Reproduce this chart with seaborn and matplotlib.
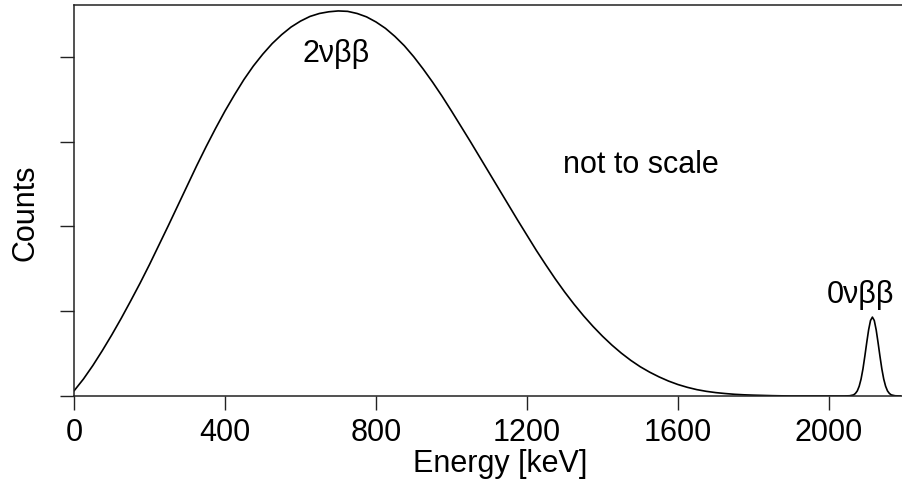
import matplotlib
matplotlib.use("Agg")
import matplotlib.pyplot as plt
import seaborn as sns
import pandas as pd

# ---- data ----
energy_2nu = [0, 25, 50, 75, 100, 125, 150, 175, 200, 225, 250, 275, 300, 325,
              350, 375, 400, 425, 450, 475, 500, 525, 550, 575, 600, 625, 650,
              675, 700, 725, 750, 775, 800, 825, 850, 875, 900, 925, 950, 975,
              1000, 1025, 1050, 1075, 1100, 1125, 1150, 1175, 1200, 1225, 1250,
              1275, 1300, 1325, 1350, 1375, 1400, 1425, 1450, 1475, 1500, 1525,
              1550, 1575, 1600, 1625, 1650, 1675, 1700, 1725, 1750, 1775, 1800,
              1825, 1850, 1875, 1900, 1950, 2000, 2040]
counts_2nu = [0.06, 0.20, 0.36, 0.535, 0.72, 0.915, 1.12, 1.33, 1.55, 1.78,
              2.01, 2.245, 2.48, 2.715, 2.94, 3.155, 3.36, 3.55, 3.73, 3.89,
              4.03, 4.155, 4.26, 4.35, 4.42, 4.475, 4.51, 4.53, 4.54, 4.535,
              4.51, 4.47, 4.41, 4.335, 4.24, 4.13, 4.00, 3.855, 3.70, 3.535,
              3.36, 3.18, 3.00, 2.815, 2.63, 2.445, 2.26, 2.075, 1.895, 1.715,
              1.545, 1.38, 1.225, 1.08, 0.945, 0.82, 0.705, 0.60, 0.505, 0.42,
              0.345, 0.281, 0.225, 0.176, 0.135, 0.102, 0.075, 0.055, 0.04,
              0.029, 0.02, 0.014, 0.01, 0.007, 0.004, 0.002, 0.0, 0.0, 0.0, 0.0]
energy_0nu = [2055, 2065, 2070, 2075, 2080, 2085, 2090, 2095, 2100, 2105, 2110,
              2115, 2120, 2125, 2130, 2135, 2140, 2145, 2150, 2155, 2160, 2165,
              2175, 2190]
counts_0nu = [0.003, 0.013, 0.03, 0.06, 0.115, 0.2, 0.32, 0.47, 0.63, 0.78,
              0.89, 0.93, 0.89, 0.78, 0.63, 0.47, 0.32, 0.2, 0.115, 0.06, 0.03,
              0.013, 0.003, 0.0]

x_ticks = [0, 400, 800, 1200, 1600, 2000]
y_ticks = [0, 1, 2, 3, 4]
labels = {"2nu": "2νββ", "0nu": "0νββ", "note": "not to scale"}

df = pd.DataFrame({"Energy": energy_2nu + energy_0nu,
                   "Counts": counts_2nu + counts_0nu})

sns.set_style("ticks")
plt.rcParams["font.family"] = ["Liberation Sans", "DejaVu Sans"]
plt.rcParams["text.color"] = "black"
plt.rcParams["axes.labelcolor"] = "black"
plt.rcParams["xtick.labelcolor"] = "black"
FS = 22

fig = plt.figure(figsize=(9.02, 4.86), dpi=100)
ax = fig.add_axes([74 / 902, 90 / 486, (926 - 74) / 902, 391 / 486])

sns.lineplot(data=df, x="Energy", y="Counts", ax=ax, color="black",
             linewidth=1.2, sort=True, estimator=None)

ax.set_xlim(0, 2257)
ax.set_ylim(0, 4.61)
ax.set_xticks(x_ticks)
ax.set_xticklabels([str(t) for t in x_ticks], fontsize=FS, color="black")
ax.set_yticks(y_ticks)
ax.set_yticklabels([])
ax.tick_params(axis="both", direction="out", length=10, width=1.0,
               color="#222222", pad=6)

for s in ["left", "bottom", "top"]:
    ax.spines[s].set_linewidth(1.1)
    ax.spines[s].set_color("#222222")
ax.spines["right"].set_visible(False)

ax.set_xlabel("Energy [keV]", fontsize=FS, color="black")
ax.set_ylabel("Counts", fontsize=FS, color="black")
ax.xaxis.set_label_coords(0.5, -0.135)
ax.yaxis.label.set_va("center")
ax.yaxis.set_label_coords(-0.0575, 0.468)

ax.text(604, 3.94, labels["2nu"], fontsize=FS, ha="left", va="baseline", color="black")
ax.text(1295, 2.63, labels["note"], fontsize=FS, ha="left", va="baseline", color="black")
ax.text(1995, 1.10, labels["0nu"], fontsize=FS, ha="left", va="baseline", color="black")

fig.savefig("out.png", dpi=100)
